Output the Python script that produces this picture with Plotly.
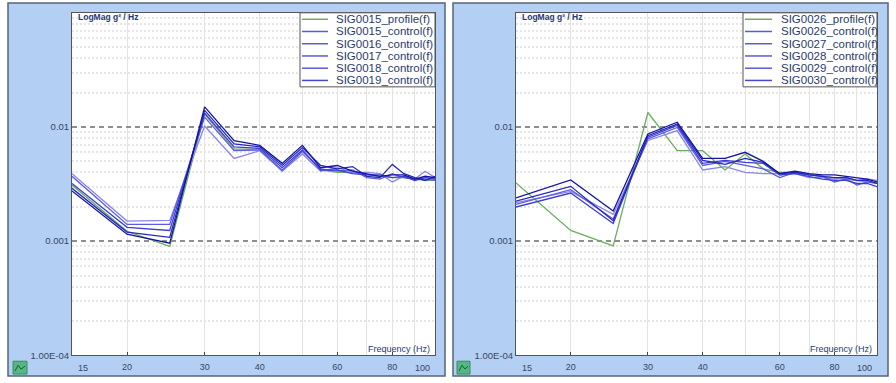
import plotly.graph_objects as go
import numpy as np

W, H = 896, 383

# ---------------- data ----------------
freq = [15, 20, 25, 30, 35, 40, 45, 50, 55, 60, 65, 70, 75, 80, 85, 90, 95, 100]

left_names = ["SIG0015_profile(f)", "SIG0015_control(f)", "SIG0016_control(f)",
              "SIG0017_control(f)", "SIG0018_control(f)", "SIG0019_control(f)"]
right_names = ["SIG0026_profile(f)", "SIG0026_control(f)", "SIG0027_control(f)",
               "SIG0028_control(f)", "SIG0029_control(f)", "SIG0030_control(f)"]

sig0015_profile = [0.0031, 0.00122, 0.00090, 0.0130, 0.0064, 0.0064, 0.0041, 0.0062, 0.0042,
                   0.0040, 0.0040, 0.0038, 0.0037, 0.0036, 0.0036, 0.0035, 0.0034, 0.0034]
sig0015_control = [0.0039, 0.0015, 0.00152, 0.0102, 0.0053, 0.0062, 0.0041, 0.0058, 0.0041,
                   0.0044, 0.0040, 0.0040, 0.0039, 0.0033, 0.0037, 0.0035, 0.0041, 0.0036]
sig0016_control = [0.0037, 0.0014, 0.0014, 0.0122, 0.0062, 0.0063, 0.0042, 0.0061, 0.0043,
                   0.0041, 0.0042, 0.0036, 0.0035, 0.0039, 0.0036, 0.0035, 0.0035, 0.0034]
sig0017_control = [0.0032, 0.00132, 0.00124, 0.0132, 0.0067, 0.0065, 0.0044, 0.0063, 0.0042,
                   0.0042, 0.0039, 0.0038, 0.0038, 0.0036, 0.0037, 0.0034, 0.0036, 0.0035]
sig0018_control = [0.0029, 0.0012, 0.00108, 0.0140, 0.0071, 0.0067, 0.0046, 0.0066, 0.0046,
                   0.0043, 0.0045, 0.0037, 0.0036, 0.0047, 0.0039, 0.0036, 0.0034, 0.0037]
sig0019_control = [0.00275, 0.00115, 0.00096, 0.0150, 0.0076, 0.0069, 0.0048, 0.0069, 0.0044,
                   0.0046, 0.0041, 0.0039, 0.0037, 0.0038, 0.0038, 0.0035, 0.0037, 0.0036]

sig0026_profile = [0.00323, 0.00124, 0.00091, 0.0134, 0.0062, 0.0062, 0.0042, 0.0058, 0.0043,
                   0.0040, 0.0040, 0.0038, 0.0037, 0.0036, 0.0035, 0.0034, 0.0033, 0.0032]
sig0026_control = [0.00217, 0.00273, 0.00172, 0.00762, 0.0093, 0.0042, 0.0045, 0.0040, 0.0039,
                   0.0039, 0.0039, 0.0036, 0.0036, 0.0035, 0.0036, 0.0034, 0.0035, 0.0034]
sig0027_control = [0.0021, 0.00282, 0.00156, 0.00788, 0.0099, 0.0046, 0.0050, 0.0046, 0.0043,
                   0.0036, 0.0040, 0.0038, 0.0037, 0.0033, 0.0035, 0.0031, 0.0033, 0.0032]
sig0028_control = [0.00199, 0.00264, 0.00143, 0.00815, 0.0103, 0.0048, 0.0051, 0.0049, 0.0048,
                   0.0038, 0.0039, 0.0037, 0.0035, 0.0034, 0.0034, 0.0032, 0.0032, 0.0030]
sig0029_control = [0.00224, 0.00302, 0.00151, 0.0084, 0.0106, 0.0051, 0.0047, 0.0053, 0.0049,
                   0.0039, 0.0040, 0.0038, 0.0037, 0.0036, 0.0036, 0.0034, 0.0034, 0.0032]
sig0030_control = [0.00239, 0.00344, 0.00184, 0.0087, 0.0110, 0.0053, 0.0053, 0.0060, 0.0050,
                   0.0039, 0.0041, 0.0039, 0.0038, 0.0038, 0.0037, 0.0036, 0.0035, 0.0033]

left_series = [sig0015_profile, sig0015_control, sig0016_control,
               sig0017_control, sig0018_control, sig0019_control]
right_series = [sig0026_profile, sig0026_control, sig0027_control,
                sig0028_control, sig0029_control, sig0030_control]

x_tickvals = [20, 30, 40, 60, 80]
x_ticktext = ["20", "30", "40", "60", "80"]
x_end_labels = ["15", "100"]
x_minor_grid = [50, 70, 90]
y_tickvals = [1e-4, 1e-3, 1e-2]
y_ticktext = ["1.00E-04", "0.001", "0.01"]
y_minor_grid = [m * d for d in (1e-4, 1e-3, 1e-2) for m in range(2, 10)]

# ---------------- styling ----------------
FONT = "Liberation Sans, Arial, sans-serif"
colors = ["#6aae5e", "#8a84ee", "#5c5ce2", "#3e3ed4", "#2626bd", "#1414a2"]
legend_line_colors = ["#6aae5e", "#5a5ade", "#5a5ade", "#5a5ade", "#5a5ade", "#4848cc"]
panel_fill = "#b3cff4"
panel_line = "#55657c"
text_col = "#2b3a67"


def px(x):
    return x / W


def py(y):
    return 1 - y / H


panels = [
    dict(outer=(8, 3, 445, 381), plot=(72, 13, 435, 360), legend=(300, 13, 435, 88),
         lx=(302, 328, 334), icon=(13, 366, 27, 379), names=left_names, series=left_series),
    dict(outer=(453, 3, 888, 381), plot=(516, 13, 877, 360), legend=(743, 13, 877, 88),
         lx=(745, 772, 779), icon=(457, 366, 470, 379), names=right_names, series=right_series),
]

fig = go.Figure()
shapes = []
annotations = []

for i, p in enumerate(panels):
    xa = "x" if i == 0 else "x2"
    ya = "y" if i == 0 else "y2"
    for j, (name, vals) in enumerate(zip(p["names"], p["series"])):
        fig.add_trace(go.Scatter(x=freq, y=vals, mode="lines", name=name,
                                 line=dict(color=colors[j], width=1.3),
                                 xaxis=xa, yaxis=ya, showlegend=False))

    ox0, oy0, ox1, oy1 = p["outer"]
    shapes.append(dict(type="rect", xref="paper", yref="paper", layer="below",
                       x0=px(ox0), x1=px(ox1), y0=py(oy1), y1=py(oy0),
                       fillcolor=panel_fill, line=dict(color=panel_line, width=1.5)))
    qx0, qy0, qx1, qy1 = p["plot"]
    shapes.append(dict(type="rect", xref="paper", yref="paper", layer="below",
                       x0=px(qx0), x1=px(qx1), y0=py(qy1), y1=py(qy0),
                       fillcolor="white", line=dict(width=0)))
    lx0, ly0, lx1, ly1 = p["legend"]
    shapes.append(dict(type="rect", xref="paper", yref="paper", layer="above",
                       x0=px(lx0), x1=px(lx1), y0=py(ly1), y1=py(ly0),
                       fillcolor="white", line=dict(color="#555555", width=1)))
    a0, a1, tx = p["lx"]
    for j, name in enumerate(p["names"]):
        yy = 19.5 + 12.4 * j
        shapes.append(dict(type="line", xref="paper", yref="paper", layer="above",
                           x0=px(a0), x1=px(a1), y0=py(yy), y1=py(yy),
                           line=dict(color=legend_line_colors[j], width=1.5)))
        annotations.append(dict(text=name, xref="paper", yref="paper", x=px(tx), y=py(yy),
                                xanchor="left", yanchor="middle", showarrow=False,
                                font=dict(family=FONT, size=11.5, color=text_col)))
    annotations.append(dict(text="<b>LogMag g² / Hz</b>", xref="paper", yref="paper",
                            x=px(qx0 + 4), y=py(qy0 + 4), xanchor="left", yanchor="middle",
                            showarrow=False, font=dict(family=FONT, size=8.5, color="#1e3a78")))
    annotations.append(dict(text="Frequency (Hz)", xref="paper", yref="paper",
                            x=px(qx1 - 3), y=py(354), xanchor="right", yanchor="middle",
                            showarrow=False, font=dict(family=FONT, size=9, color="#24397a")))
    annotations.append(dict(text=x_end_labels[0], xref=xa, yref="paper", x=np.log10(freq[0]),
                            y=py(373), xanchor="left", xshift=4, yanchor="middle",
                            showarrow=False, font=dict(family=FONT, size=9, color="#3a4660")))
    annotations.append(dict(text=x_end_labels[1], xref=xa, yref="paper", x=np.log10(freq[-1]),
                            y=py(373), xanchor="right", xshift=-3, yanchor="middle",
                            showarrow=False, font=dict(family=FONT, size=9, color="#3a4660")))
    ix0, iy0, ix1, iy1 = p["icon"]
    shapes.append(dict(type="rect", xref="paper", yref="paper", layer="above",
                       x0=px(ix0), x1=px(ix1), y0=py(iy1), y1=py(iy0),
                       fillcolor="#55b884", line=dict(color="#3b8a62", width=1)))
    shapes.append(dict(type="path", xref="paper", yref="paper", layer="above",
                       path=f"M {px(ix0+2)},{py(iy1-3)} L {px(ix0+5)},{py(iy0+4)} "
                            f"L {px(ix0+8)},{py(iy1-5)} L {px(ix1-2)},{py(iy0+5)}",
                       line=dict(color="#1d5a3c", width=1)))

axis_common = dict(type="log", showline=True, mirror=True, linecolor="#555555", linewidth=1,
                   zeroline=False, tickfont=dict(family=FONT, size=9, color="#3a4660"))

xcfg = dict(axis_common, range=[np.log10(15), np.log10(100)], tickmode="array",
            tickvals=x_tickvals, ticktext=x_ticktext, ticks="inside", ticklen=3,
            tickcolor="#444444", ticklabelstandoff=3,
            showgrid=True, gridcolor="#e3e3e3", gridwidth=1,
            minor=dict(tickmode="array", tickvals=x_minor_grid, showgrid=True,
                       gridcolor="#e3e3e3", ticks=""))
ycfg = dict(axis_common, range=[-4, -1], tickmode="array", tickvals=y_tickvals,
            ticktext=y_ticktext, ticks="", showgrid=True, gridcolor="#8f8f8f",
            gridwidth=1.5, griddash="5px,4px",
            tickfont=dict(family=FONT, size=9.5, color="#3a4660"),
            minor=dict(tickmode="array", tickvals=y_minor_grid, showgrid=True,
                       gridcolor="#e6e6e6", griddash="2px,2px", ticks=""))

L = panels[0]["plot"]
R = panels[1]["plot"]
fig.update_layout(
    width=W, height=H, margin=dict(l=0, r=0, t=0, b=0),
    paper_bgcolor="white", plot_bgcolor="rgba(0,0,0,0)",
    showlegend=False,
    xaxis=dict(xcfg, domain=[px(L[0]), px(L[2])], anchor="y"),
    yaxis=dict(ycfg, domain=[py(L[3]), py(L[1])], anchor="x"),
    xaxis2=dict(xcfg, domain=[px(R[0]), px(R[2])], anchor="y2"),
    yaxis2=dict(ycfg, domain=[py(R[3]), py(R[1])], anchor="x2"),
    shapes=shapes, annotations=annotations,
)

fig.write_html(
    "out.html",
    config={"displayModeBar": False},
    post_script="document.body.style.margin='0px';document.body.style.padding='0px';"
                "document.body.style.overflow='hidden';",
)
